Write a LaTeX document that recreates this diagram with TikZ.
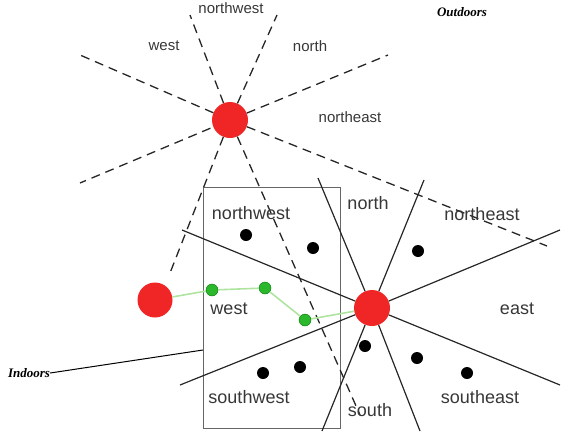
\documentclass[tikz,border=0pt]{standalone}
\usepackage{fontspec}
\setmainfont{Liberation Serif}
\setsansfont{Liberation Sans}

\definecolor{apred}{RGB}{240,38,38}
\definecolor{hopgreen}{RGB}{44,184,44}
\definecolor{linkgreen}{RGB}{175,228,160}
\definecolor{labelgray}{RGB}{55,55,55}

\tikzset{
  ap/.style={circle, fill=apred, minimum size=36pt, inner sep=0pt},
  hop/.style={circle, fill=hopgreen, draw=green!45!black, line width=0.4pt, minimum size=12pt, inner sep=0pt},
  client/.style={circle, fill=black, minimum size=12pt, inner sep=0pt},
  outray/.style={draw=black!85, line width=1.3pt, dash pattern=on 9pt off 6pt, shorten <=3pt},
  inray/.style={draw=black!85, line width=1.2pt},
  link/.style={draw=linkgreen, line width=1.6pt},
  zonelbl/.style={font=\sffamily\fontsize{18}{18}\selectfont, text=labelgray, inner sep=0pt},
  farlbl/.style={font=\sffamily\fontsize{15}{15}\selectfont, text=labelgray, inner sep=0pt},
  placelbl/.style={font=\itshape\bfseries\fontsize{13}{13}\selectfont, inner sep=0pt},
}

\begin{document}
\begin{tikzpicture}[x=1pt, y=-1pt]

  \useasboundingbox (0,0) rectangle (564,431);

  % -- Indoor room --
  \node[draw=black!60, line width=0.8pt, minimum width=137pt, minimum height=241pt, inner sep=0pt] (room) at (271.5,307.5) {};

  % -- Access points --
  \node[ap] (apOut) at (230,120) {};
  \node[ap] (apIn) at (372,308) {};
  \node[ap, minimum size=35pt] (mobile) at (155,300) {};

  % -- Ray ends, outdoor access point --
  \coordinate (oW1) at (80,55);
  \coordinate (oN1) at (190,15);
  \coordinate (oN2) at (277,15);
  \coordinate (oE1) at (388,55);
  \coordinate (oE2) at (547,246);
  \coordinate (oS1) at (360,415);
  \coordinate (oS2) at (170,273);
  \coordinate (oW2) at (80,183);

  % -- Ray ends, indoor access point --
  \coordinate (iN1) at (318,178);
  \coordinate (iN2) at (424,180);
  \coordinate (iE1) at (560,230);
  \coordinate (iE2) at (560,385);
  \coordinate (iS1) at (420,431);
  \coordinate (iS2) at (322,431);
  \coordinate (iW1) at (180,385);
  \coordinate (iW2) at (182,230);

  % -- Dashed sectors (outdoors) --
  \draw[outray] (apOut) -- (oW1) (apOut) -- (oN1) (apOut) -- (oN2) (apOut) -- (oE1)
                (apOut) -- (oE2) (apOut) -- (oS1) (apOut) -- (oS2) (apOut) -- (oW2);

  % -- Solid sectors (indoors) --
  \draw[inray] (apIn) -- (iN1) (apIn) -- (iN2) (apIn) -- (iE1) (apIn) -- (iE2)
               (apIn) -- (iS1) (apIn) -- (iS2) (apIn) -- (iW1) (apIn) -- (iW2);

  % -- Clients --
  \node[client] (c1) at (246,235) {};
  \node[client] (c2) at (313,248) {};
  \node[client] (c3) at (418,251) {};
  \node[client] (c4) at (365,346) {};
  \node[client] (c5) at (417,358) {};
  \node[client] (c6) at (467,373) {};
  \node[client] (c7) at (263,373) {};
  \node[client] (c8) at (300,367) {};

  % -- Path of the mobile --
  \node[hop] (h1) at (212,290) {};
  \node[hop] (h2) at (265,288) {};
  \node[hop] (h3) at (305,320) {};
  \draw[link] (mobile) -- (h1) -- (h2) -- (h3) -- (apIn);

  % -- Sector labels, outdoor --
  \node[farlbl] (fNW) at (231,8) {northwest};
  \node[farlbl] (fW) at (164,46) {west};
  \node[farlbl] (fN) at (310,46) {north};
  \node[farlbl] (fNE) at (350,117) {northeast};

  % -- Sector labels, indoor --
  \node[zonelbl] (zNW) at (251,213) {northwest};
  \node[zonelbl] (zN) at (368,203) {north};
  \node[zonelbl] (zNE) at (482,214) {northeast};
  \node[zonelbl] (zW) at (229,309) {west};
  \node[zonelbl] (zE) at (517,309) {east};
  \node[zonelbl] (zSW) at (249,397) {southwest};
  \node[zonelbl] (zS) at (370,410) {south};
  \node[zonelbl] (zSE) at (480,397) {southeast};

  % -- Place labels --
  \node[placelbl] (outLbl) at (462,12) {Outdoors};
  \node[placelbl] (inLbl) at (29,373) {Indoors};
  \coordinate (wall) at (203,350);
  \draw[line width=1pt] (inLbl.east) -- (wall);

\end{tikzpicture}
\end{document}
